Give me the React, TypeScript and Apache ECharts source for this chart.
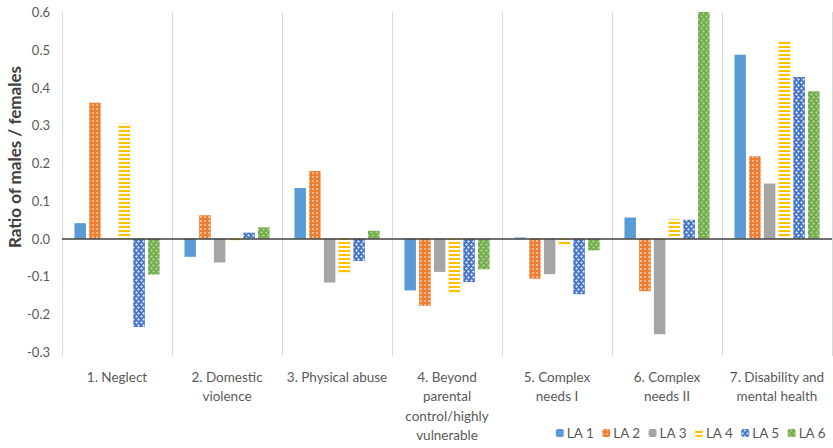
import React, { useEffect, useRef } from "react";
import * as echarts from "echarts";

const categories = [
  "1. Neglect",
  "2. Domestic\nviolence",
  "3. Physical abuse",
  "4. Beyond\nparental\ncontrol/highly\nvulnerable",
  "5. Complex\nneeds I",
  "6. Complex\nneeds II",
  "7. Disability and\nmental health",
];
const seriesNames = ["LA 1", "LA 2", "LA 3", "LA 4", "LA 5", "LA 6"];
const la1 = [0.041, -0.048, 0.134, -0.137, 0.003, 0.056, 0.487];
const la2 = [0.36, 0.062, 0.179, -0.178, -0.106, -0.139, 0.218];
const la3 = [0, -0.063, -0.116, -0.088, -0.094, -0.253, 0.146];
const la4 = [0.304, -0.004, -0.093, -0.143, -0.016, 0.051, 0.521];
const la5 = [-0.234, 0.016, -0.059, -0.115, -0.147, 0.05, 0.428];
const la6 = [-0.095, 0.03, 0.021, -0.081, -0.031, 0.6, 0.39];
const yTicks = { min: -0.3, max: 0.6, interval: 0.1 };

const colors = ["#5B9BD5", "#ED7D31", "#A5A5A5", "#FFC000", "#4472C4", "#70AD47"];

const decals: any[] = [
  null,
  {
    symbol: "circle",
    symbolSize: 0.8,
    color: "rgba(255,255,255,0.7)",
    dashArrayX: [2, 2],
    dashArrayY: [2, 2],
  },
  null,
  {
    symbol: "rect",
    symbolSize: 1,
    color: "rgba(255,255,255,0.95)",
    dashArrayX: [1, 0],
    dashArrayY: [1.5, 1.7],
  },
  {
    symbol: "diamond",
    symbolSize: 1,
    color: "rgba(255,255,255,0.75)",
    dashArrayX: [[2.5, 1.5], [0, 2, 2.5, 0]],
    dashArrayY: [2.5, 0],
  },
  {
    symbol: "diamond",
    symbolSize: 1,
    color: "rgba(255,255,255,0.4)",
    dashArrayX: [[2.5, 1.5], [0, 2, 2.5, 0]],
    dashArrayY: [2.5, 0],
  },
];

export default function App() {
  const ref = useRef<HTMLDivElement>(null);
  useEffect(() => {
    if (!ref.current) return;
    const chart = echarts.init(ref.current, null, { renderer: "svg" });
    const data = [la1, la2, la3, la4, la5, la6];
    const font = "Lato, 'Liberation Sans', sans-serif";
    chart.setOption({
      animation: false,
      textStyle: { fontFamily: font },
      grid: { left: 62, right: 1, top: 12, bottom: 96, containLabel: false },
      legend: {
        data: seriesNames,
        right: 2,
        bottom: 3,
        itemWidth: 8,
        itemHeight: 8,
        itemGap: 8,
        textStyle: { fontFamily: font, fontSize: 13.5, color: "#595959", padding: [0, 0, 0, -2] },
      },
      xAxis: {
        type: "category",
        data: categories,
        axisLine: { show: false, onZero: false },
        axisTick: { show: true, length: 4, lineStyle: { color: "#D9D9D9" } },
        splitLine: { show: true, lineStyle: { color: "#D9D9D9", width: 1 } },
        axisLabel: {
          interval: 0,
          margin: 15,
          fontSize: 13.5,
          lineHeight: 19.5,
          color: "#595959",
          fontFamily: font,
        },
      },
      yAxis: {
        type: "value",
        min: yTicks.min,
        max: yTicks.max,
        interval: yTicks.interval,
        axisLine: { show: false },
        axisTick: { show: false },
        splitLine: { show: false },
        axisLabel: {
          margin: 12,
          fontSize: 13,
          color: "#595959",
          fontFamily: font,
          formatter: (v: number) => v.toFixed(1),
        },
      },
      graphic: [
        {
          type: "text",
          x: 14,
          y: 157,
          rotation: Math.PI / 2,
          style: {
            text: "Ratio of males / females",
            fontSize: 17,
            fontWeight: "bold",
            fill: "#404040",
            fontFamily: font,
            textAlign: "center",
            textVerticalAlign: "middle",
          },
        },
      ],
      series: seriesNames.map((name, i) => ({
        name,
        type: "bar",
        data: data[i],
        barWidth: 11.5,
        barGap: "28%",
        itemStyle: {
          color: colors[i],
          ...(decals[i] ? { decal: decals[i] } : {}),
        },
        ...(i === 0
          ? {
              markLine: {
                silent: true,
                symbol: "none",
                label: { show: false },
                lineStyle: { color: "#404040", width: 1.5, type: "solid" },
                data: [{ yAxis: 0 }],
              },
            }
          : {}),
      })),
    });
    return () => chart.dispose();
  }, []);
  return (
    <div
      ref={ref}
      style={{ position: "absolute", left: 0, top: 0, width: 833, height: 448 }}
    />
  );
}
